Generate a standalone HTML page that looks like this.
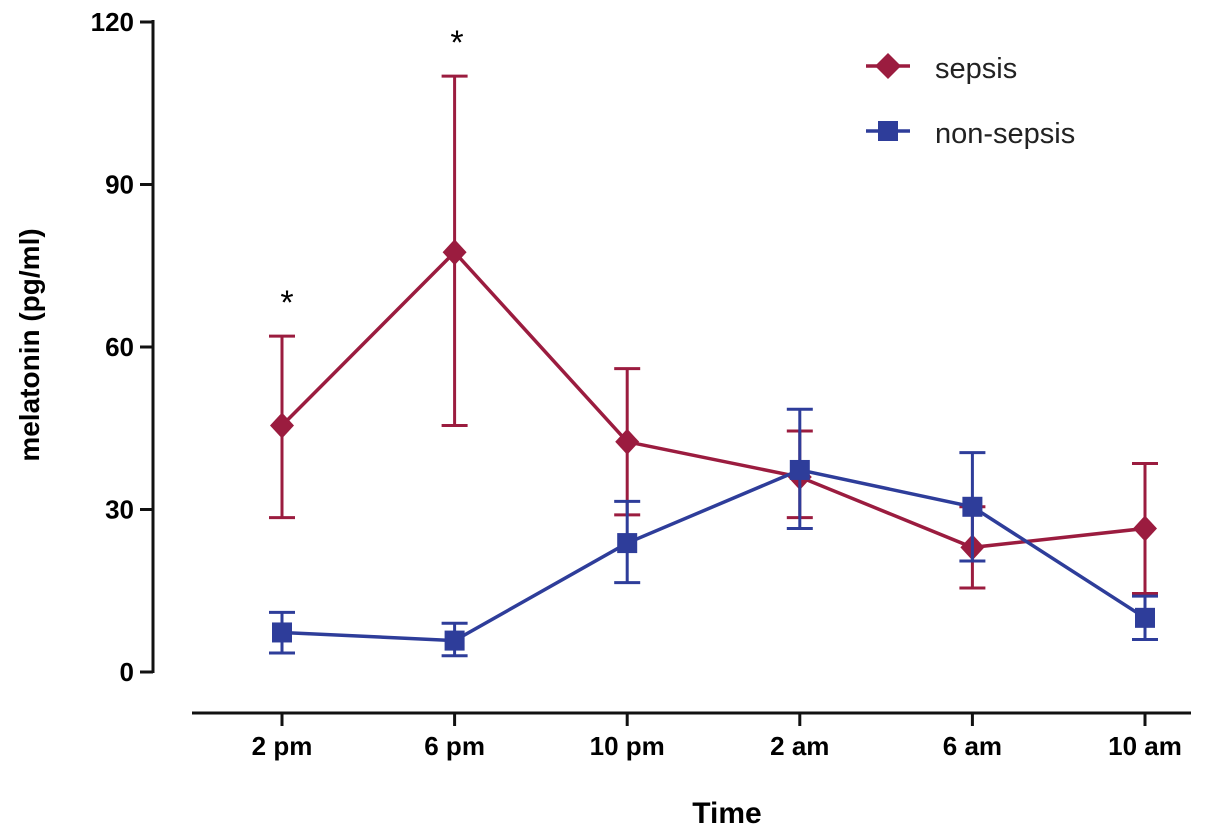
<!DOCTYPE html>
<html><head><meta charset="utf-8"><style>
body{margin:0;background:#fff}
svg{display:block;font-family:"Liberation Sans",Arial,sans-serif}
</style></head><body>
<svg width="1205" height="836" viewBox="0 0 1205 836">
<g id="axes"></g><g id="marks"></g>
<text x="287" y="314" font-size="34" text-anchor="middle">*</text>
<text x="457" y="54" font-size="34" text-anchor="middle">*</text>
<text transform="translate(39,345) rotate(-90)" font-size="28" font-weight="bold" text-anchor="middle">melatonin (pg/ml)</text>
<text x="727" y="823" font-size="30" font-weight="bold" text-anchor="middle">Time</text>
<g>
<g>
<line x1="866" y1="66" x2="910" y2="66" stroke="#9b1c3f" stroke-width="3.5"/>
<polygon points="888,53 901,66 888,79 875,66" fill="#9b1c3f"/>
<text x="935" y="78" font-size="29" fill="#222">sepsis</text></g>
<g>
<line x1="866" y1="131" x2="910" y2="131" stroke="#2e3d9a" stroke-width="3.5"/>
<rect x="878" y="121" width="20" height="20" fill="#2e3d9a"/>
<text x="935" y="143" font-size="29" fill="#222">non-sepsis</text></g>
</g>
</svg>
<script>
const categories=["2 pm","6 pm","10 pm","2 am","6 am","10 am"];
const sepsisMean=[45.5,77.5,42.5,36,23,26.5];
const sepsisLow=[28.5,45.5,29,28.5,15.5,14.5];
const sepsisHigh=[62,110,56,44.5,30.5,38.5];
const nonMean=[7.3,5.8,23.8,37.3,30.5,10];
const nonLow=[3.5,3,16.5,26.5,20.5,6];
const nonHigh=[11,9,31.5,48.5,40.5,14];
const yTicks=[0,30,60,90,120];
const NS="http://www.w3.org/2000/svg";
const yS=v=>672-v*(650/120);
const xS=i=>282+i*172.6;
function mk(t,a,p){const e=document.createElementNS(NS,t);for(const k in a)e.setAttribute(k,a[k]);p.appendChild(e);return e;}
const ax=document.getElementById('axes'),mg=document.getElementById('marks');
let e=mk('line',{x1:153,y1:20,x2:153,y2:673,stroke:'#111','stroke-width':3},ax);


e=mk('line',{x1:192,y1:713,x2:1191,y2:713,stroke:'#111','stroke-width':3},ax);


yTicks.forEach(v=>{
 mk('line',{x1:140,y1:yS(v),x2:153,y2:yS(v),stroke:'#111','stroke-width':3},ax);
 const t=mk('text',{x:134,y:yS(v)+9,'font-size':26,'font-weight':'bold','text-anchor':'end'},ax);t.textContent=v;
 
 
});
categories.forEach((c,i)=>{
 mk('line',{x1:xS(i),y1:713,x2:xS(i),y2:726,stroke:'#111','stroke-width':3},ax);
 const t=mk('text',{x:xS(i),y:755,'font-size':26,'font-weight':'bold','text-anchor':'middle'},ax);t.textContent=c;
 
 
});
function series(mean,lo,hi,col,name,shape){
 const g=mk('g',{},mg);
 
 
 mean.forEach((m,i)=>{
  const x=xS(i);
  mk('line',{x1:x,y1:yS(lo[i]),x2:x,y2:yS(hi[i]),stroke:col,'stroke-width':3},g);
  [lo[i],hi[i]].forEach(v=>mk('line',{x1:x-13,y1:yS(v),x2:x+13,y2:yS(v),stroke:col,'stroke-width':3},g));
 });
 const l=mk('polyline',{points:mean.map((m,i)=>xS(i)+','+yS(m)).join(' '),fill:'none',stroke:col,'stroke-width':3.5},g);
 
 
 mean.forEach((m,i)=>{
  const x=xS(i),y=yS(m);let p;
  if(shape==='d')p=mk('polygon',{points:`${x},${y-13} ${x+12},${y} ${x},${y+13} ${x-12},${y}`,fill:col},g);
  else p=mk('rect',{x:x-10,y:y-10,width:20,height:20,fill:col},g);
  
  
 });
}
series(sepsisMean,sepsisLow,sepsisHigh,'#9b1c3f','sepsis','d');
series(nonMean,nonLow,nonHigh,'#2e3d9a','non-sepsis','s');
</script>
</body></html>
